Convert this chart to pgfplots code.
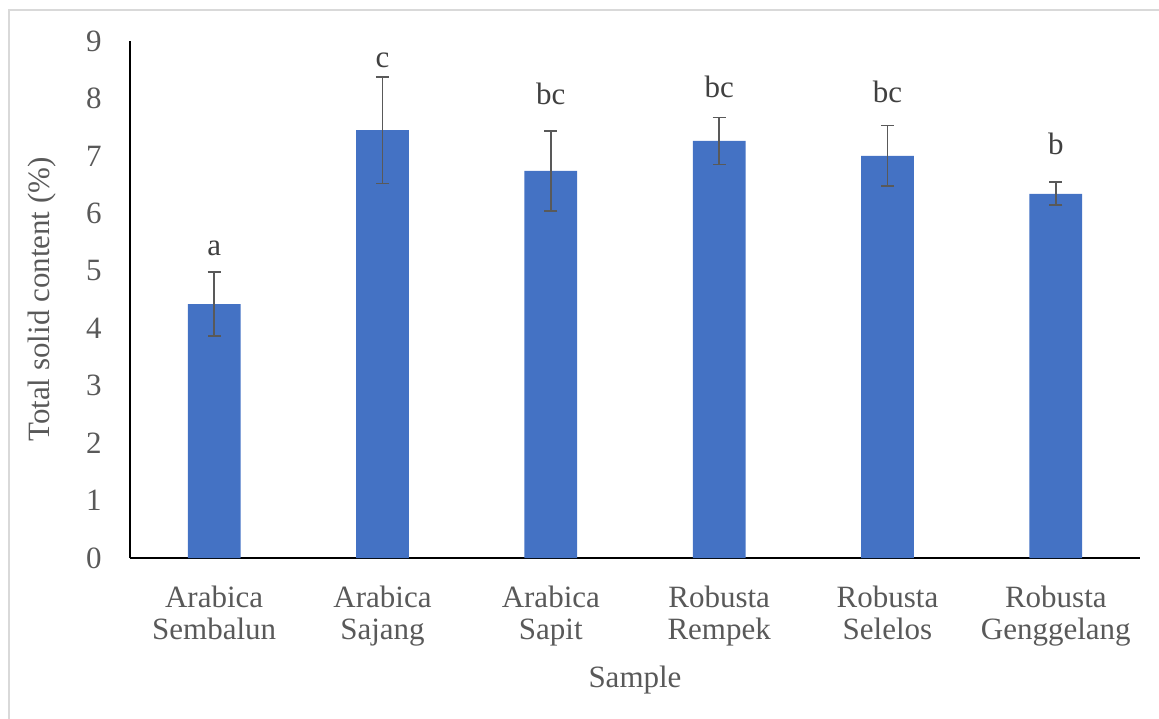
\documentclass[border=0pt]{standalone}
\usepackage{pgfplots}
\pgfplotsset{compat=1.18}
\usetikzlibrary{calc}
\usepackage{fontspec}
\setmainfont{Liberation Serif}

\definecolor{barblue}{HTML}{4472C4}
\definecolor{txtgray}{HTML}{595959}
\definecolor{errgray}{HTML}{595959}
\definecolor{letgray}{HTML}{404040}
\definecolor{framegray}{HTML}{D9D9D9}

\begin{document}
\begin{tikzpicture}
\begin{axis}[
  width=505pt, height=258.5pt, scale only axis,
  xmin=-0.5, xmax=5.5, ymin=0, ymax=9,
  axis x line*=bottom, axis y line*=left,
  axis line style={black, line width=0.7pt, -},
  ytick={0,1,...,9},
  xtick={0,1,2,3,4,5},
  xticklabels={{Arabica\\Sembalun},{Arabica\\Sajang},{Arabica\\Sapit},{Robusta\\Rempek},{Robusta\\Selelos},{Robusta\\Genggelang}},
  major tick length=0pt,
  tick label style={font=\fontsize{15.5}{16}\selectfont, text=txtgray},
  /pgf/number format/assume math mode=true,
  yticklabel style={anchor=east, inner sep=0pt, xshift=-14pt},
  xticklabel style={align=center, anchor=north, inner sep=0pt, yshift=-14pt},
  xlabel={Sample},
  ylabel={Total solid content (\%)},
  label style={font=\fontsize{15.5}{16}\selectfont, text=txtgray},
  xlabel style={at={(axis description cs:0.5,-0.236)}, anchor=center},
  ylabel style={at={(axis description cs:-0.0871,0.5)}, anchor=center},
  ybar, bar width=26.35pt,
  clip=false,
]
\addplot+[fill=barblue, draw=none,
  error bars/.cd, y dir=both, y explicit,
  error bar style={errgray, line width=0.75pt},
  error mark options={errgray, line width=0.9pt, mark size=3.3pt, rotate=90}]
  table[x=x, y=y, y error=e] {
x y    e
0 4.42 0.56
1 7.45 0.93
2 6.74 0.70
3 7.26 0.41
4 7.00 0.53
5 6.34 0.20
};
\coordinate (O) at (rel axis cs:0,0);
\node[anchor=base, text=letgray, font=\fontsize{15.5}{16}\selectfont] at (axis cs:0,5.27) {a};
\node[anchor=base, text=letgray, font=\fontsize{15.5}{16}\selectfont] at (axis cs:1,8.54) {c};
\node[anchor=base, text=letgray, font=\fontsize{15.5}{16}\selectfont] at (axis cs:2,7.90) {bc};
\node[anchor=base, text=letgray, font=\fontsize{15.5}{16}\selectfont] at (axis cs:3,8.02) {bc};
\node[anchor=base, text=letgray, font=\fontsize{15.5}{16}\selectfont] at (axis cs:4,7.93) {bc};
\node[anchor=base, text=letgray, font=\fontsize{15.5}{16}\selectfont] at (axis cs:5,7.03) {b};
\end{axis}
\pgfresetboundingbox
\path[use as bounding box] ($(O)+(-65pt,-80pt)$) rectangle ($(O)+(514.5pt,279pt)$);
% chart frame (left and top edges)
\draw[framegray, line width=0.8pt] ($(O)+(-60.5pt,-90pt)$) -- ($(O)+(-60.5pt,274pt)$) -- ($(O)+(530pt,274pt)$);
\end{tikzpicture}
\end{document}
